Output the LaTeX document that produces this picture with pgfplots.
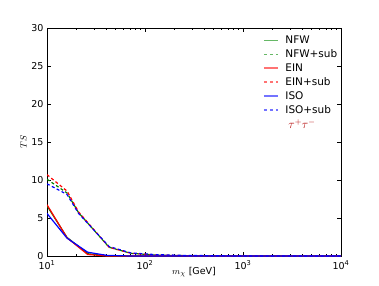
\documentclass[border=0pt]{standalone}
\usepackage{pgfplots}
\pgfplotsset{compat=1.18}
\usepackage{fontspec}
\setmainfont{DejaVu Sans}
\definecolor{mgreen}{rgb}{0,0.5,0}
\definecolor{lgreen}{rgb}{0.4,0.72,0.4}
\definecolor{lred}{rgb}{1,0.45,0.45}
\definecolor{lblue}{rgb}{0.45,0.45,1}
\definecolor{darkred}{rgb}{0.7,0,0}
\begin{document}
\begin{tikzpicture}
\path[use as bounding box] (-47pt,-29pt) rectangle (332pt,256pt);
\begin{axis}[
  scale only axis,
  width=294pt, height=228pt,
  xmode=log,
  xmin=10, xmax=10000, ymin=0, ymax=30,
  xtick={10,100,1000,10000},
  xticklabels={10\textsuperscript{1},10\textsuperscript{2},10\textsuperscript{3},10\textsuperscript{4}},
  xticklabel style={yshift=-1.5pt},
  ytick={0,5,10,15,20,25,30},
  yticklabel style={/pgf/number format/assume math mode=true},
  tick align=inside,
  major tick length=4pt, minor tick length=2pt,
  tick style={black, line width=0.4pt},
  axis line style={line width=0.6pt},
  font=\fontsize{9.5}{11}\selectfont,
  xlabel={$m_\chi$ [GeV]},
  ylabel={$TS$},
  xlabel style={at={(axis description cs:0.5,-0.07)}, anchor=center},
  ylabel style={at={(axis description cs:-0.08,0.5)}, anchor=center},
  legend style={draw=none, fill=none, at={(1.005,0.985)}, anchor=north east,
    font=\fontsize{10.5}{12}\selectfont, row sep=0.6pt},
  legend cell align=left,
  legend image code/.code={\draw[#1] (0pt,0pt) -- (14pt,0pt); \path (19pt,0pt);},
]
\addplot[mgreen, line width=1.2pt, forget plot] coordinates {(10,6.6) (16,2.45) (26,0.3) (41,0.02) (72,0) (10000,0)};
\addplot[mgreen, line width=1.2pt, dash pattern=on 3pt off 2.5pt, forget plot] coordinates {(10,10.1) (16,8.3) (21,5.7) (43,1.15) (72,0.35) (130,0.12) (250,0.05) (600,0.02) (1000,0) (10000,0)};
\addplot[red, line width=1.2pt, forget plot] coordinates {(10,6.75) (16,2.4) (26,0.2) (41,0.0) (72,0) (10000,0)};
\addplot[red, line width=1.2pt, dash pattern=on 3pt off 2.5pt, forget plot] coordinates {(10,10.7) (16,8.55) (21,5.8) (43,1.15) (72,0.35) (130,0.13) (250,0.05) (600,0.02) (1000,0) (10000,0)};
\addplot[blue, line width=1.2pt, forget plot] coordinates {(10,5.6) (16,2.35) (26,0.5) (41,0.08) (72,0) (10000,0)};
\addplot[blue, line width=1.2pt, dash pattern=on 3pt off 2.5pt, forget plot] coordinates {(10,9.5) (16,8.1) (21,5.6) (43,1.25) (72,0.4) (130,0.18) (250,0.08) (600,0.03) (1000,0) (10000,0)};
\addlegendimage{draw=lgreen, line width=1.2pt}
\addlegendentry{NFW}
\addlegendimage{draw=lgreen, line width=1.2pt, dash pattern=on 3pt off 3pt}
\addlegendentry{NFW+sub}
\addlegendimage{draw=lred, line width=1.2pt}
\addlegendentry{EIN}
\addlegendimage{draw=lred, line width=1.2pt, dash pattern=on 3pt off 3pt}
\addlegendentry{EIN+sub}
\addlegendimage{draw=lblue, line width=1.2pt}
\addlegendentry{ISO}
\addlegendimage{draw=lblue, line width=1.2pt, dash pattern=on 3pt off 3pt}
\addlegendentry{ISO+sub}
\addlegendimage{empty legend}
\addlegendentry{\hspace{3pt}\textcolor{darkred}{\large$\tau^+\tau^-$}}
\end{axis}
\end{tikzpicture}
\end{document}
